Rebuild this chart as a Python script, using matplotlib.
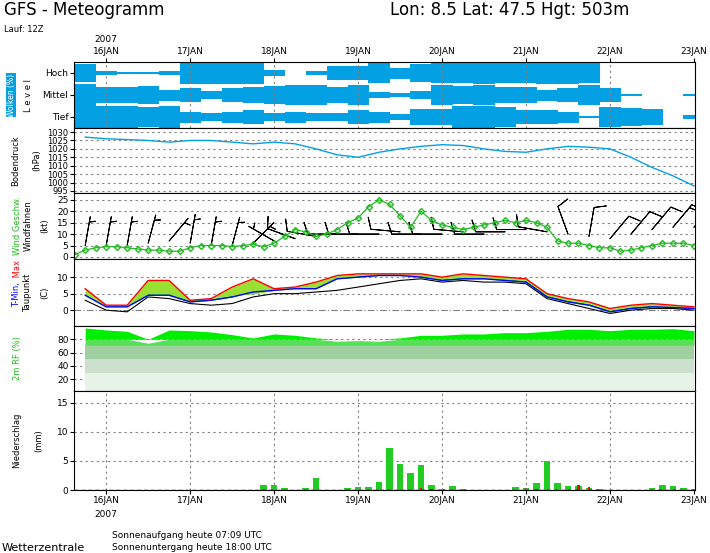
import matplotlib
matplotlib.use('Agg')
import matplotlib.pyplot as plt
import numpy as np

plt.rcParams['font.family'] = 'DejaVu Sans'
plt.rcParams['font.size'] = 6.5

# hours after 16JAN 00Z
t6 = np.arange(-6, 169, 6)
t3 = np.arange(-9, 169, 3)
day_ticks = np.arange(0, 169, 24)
day_labels = ['16JAN', '17JAN', '18JAN', '19JAN', '20JAN', '21JAN', '22JAN', '23JAN']

cloud_high = [0.8, 0.2, 0.1, 0.1, 0.2, 1, 1, 1, 1, 0.3, 0, 0.2, 0.6, 0.6, 0.9, 0.5, 0.8, 0.9, 0.9, 1,
              0.9, 0.9, 1, 1, 0.9, 0, 0, 0, 0, 0]
cloud_mid = [1, 0.7, 0.7, 0.8, 0.5, 0.6, 0.4, 0.6, 0.7, 0.8, 0.9, 0.9, 0.7, 0.9, 0.3, 0.2, 0.4, 0.9, 0.8, 0.9,
             0.7, 0.7, 0.5, 0.6, 0.9, 0.6, 0.1, 0, 0, 0.1]
cloud_low = [1, 1, 1, 0.9, 1, 0.5, 0.4, 0.5, 0.6, 0.4, 0.5, 0.4, 0.4, 0.6, 0.5, 0.3, 0.7, 0.7, 1, 1,
             0.9, 0.6, 0.6, 0.5, 0.1, 0.9, 0.8, 0.7, 0, 0.2]

pressure = [1027, 1026, 1025.5, 1025, 1024, 1025, 1025, 1024, 1023, 1024, 1023, 1020, 1016.5, 1015, 1018,
            1020, 1021.5, 1022.5, 1022, 1020, 1018.5, 1018, 1020, 1021.5, 1021, 1020, 1015, 1009, 1004, 998]

gust = [1, 3, 4, 4.5, 4.5, 4, 3.5, 3, 3, 2.5, 2.5, 4, 5, 5, 5, 4.5, 5, 5.5, 4.5, 6,
        9, 12, 11, 9, 10, 12, 15, 17, 22, 25, 23, 18, 13, 20, 16, 14, 13, 12, 13, 14,
        15, 16, 15, 16, 15, 13, 7, 6, 6, 5, 4, 4, 2.5, 3, 4, 5, 6, 6, 6, 5]
wind_spd = [5, 5, 5, 6, 7, 6, 5, 5, 6, 7, 8, 9, 10, 10, 10, 11, 10, 10, 11, 10,
            11, 12, 11, 10, 9, 8, 10, 12, 13, 13]
wind_dir = [10, 10, 10, 15, 40, 10, 10, 15, 45, 300, 290, 280, 270, 270, 270, 275, 270, 270, 275, 270,
            270, 270, 280, 340, 10, 40, 40, 40, 40, 40]

t_max = [6.5, 1.5, 1.5, 9, 9, 3, 3.5, 7, 9.5, 6.5, 7, 8.5, 10.5, 11, 11, 11, 11, 10, 11, 10.5,
         10, 9.5, 5, 3.5, 2.5, 0.5, 1.5, 2, 1.5, 1]
t_mid = [5, 1, 1, 5, 5, 3, 3.5, 4.5, 5, 6, 6.5, 7, 9.5, 10.5, 10.5, 10.5, 10, 9.5, 10, 9.5,
         9.5, 9, 4.5, 3, 2, 0, 1, 1.5, 1, 0.5]
t_min = [4.5, 1, 1, 4.5, 4.5, 2.5, 3, 4, 5.5, 6, 6.5, 6.5, 9.5, 10, 10.5, 10.5, 10, 9, 9.5, 9.5,
         9, 8.5, 4, 2.5, 1.5, -0.5, 0.5, 1, 0.8, 0.5]
dewpoint = [3, 0, -0.5, 4, 3.5, 2, 1.5, 2, 4, 5, 5, 5.5, 6, 7, 8, 9, 9.5, 8.5, 9, 8.5,
            8.5, 8, 3.5, 2, 0.5, -1, 0, 0.5, 0.5, 0]

rh = [97, 94, 92, 74, 94, 93, 91, 87, 82, 88, 86, 82, 77, 78, 77, 82, 86, 86, 88, 88,
      90, 90, 92, 95, 95, 93, 95, 95, 96, 93]

precip = [0, 0, 0,
          0, 0, 0, 0, 0, 0, 0, 0,
          0, 0, 0, 0, 0, 0, 0, 0.9,
          0.9, 0.4, 0, 0.4, 2.1, 0, 0, 0.4,
          0.6, 0.6, 1.4, 7.2, 4.5, 3.0, 4.3, 0.9,
          0.2, 0.7, 0.2, 0, 0, 0, 0, 0.5,
          0.4, 1.2, 5.0, 1.2, 0.7, 0.7, 0.3, 0.2,
          0, 0, 0, 0, 0.3, 0.9, 0.7, 0.4,
          0.2]
precip_conv = [0, 0, 0,
               0, 0, 0, 0, 0, 0, 0, 0,
               0, 0, 0, 0, 0, 0, 0, 0,
               0, 0, 0, 0, 0, 0, 0, 0,
               0, 0, 0, 0, 0, 0, 0.4, 0.2,
               0, 0, 0, 0, 0, 0, 0, 0,
               0.4, 0.2, 0, 0, 0, 0.9, 0.5, 0,
               0, 0, 0, 0, 0, 0, 0, 0,
               0]

W, H = 710, 553
fig = plt.figure(figsize=(W / 100, H / 100), dpi=100)


def panel(ytop, ybot):
    ax = fig.add_axes([74 / W, 1 - ybot / H, 621 / W, (ybot - ytop) / H])
    ax.set_xlim(-9.2, 168.3)
    ax.set_xticks(day_ticks)
    ax.tick_params(length=3, pad=1, labelsize=6.5)
    return ax


def hgrid(ax, vals):
    for v in vals:
        ax.axhline(v, color='gray', ls=(0, (2, 3)), lw=0.8, zorder=0)


def vgrid(ax):
    for d in day_ticks[:-1]:
        ax.axvline(d, color='gray', ls=(0, (2, 3)), lw=0.8, zorder=3)


def ylab(ax, px, s, color='black', y=0.5, va='center'):
    # px: x position in figure pixels
    ax.text((px - 74) / 621, y, s, rotation=90, color=color, transform=ax.transAxes,
            ha='center', va=va, fontsize=6)


blue = '#04a0e4'

# clouds
ax = panel(62, 128)
ax.set_ylim(0, 3)
for i, lev in enumerate([cloud_low, cloud_mid, cloud_high]):
    h = np.array(lev)
    ax.bar(t6, h, width=6.05, bottom=i + 0.5 - h / 2, color=blue, linewidth=0)
vgrid(ax)
ax.set_yticks([0.5, 1.5, 2.5])
ax.set_yticklabels(['Tief', 'Mittel', 'Hoch'], fontsize=6.5)
ax.xaxis.tick_top()
ax.set_xticklabels(day_labels)
ax.text(0, 1.3, '2007', transform=ax.get_xaxis_transform(), ha='center', fontsize=6.5)
ylab(ax, 28, 'L e v e l')
ax.text((11 - 74) / 621, 0.5, 'Wolken (%)', rotation=90, transform=ax.transAxes, ha='center', va='center',
        fontsize=5.5, color='white', bbox=dict(facecolor=blue, edgecolor='none', pad=0.5))

# pressure
ax = panel(128, 193)
ax.set_ylim(993.8, 1032.4)
hgrid(ax, np.arange(995, 1031, 5))
ax.plot(t6, pressure, color=blue, lw=1)
ax.set_yticks(np.arange(995, 1031, 5))
ax.set_yticklabels([str(v) for v in range(995, 1031, 5)], fontsize=6)
ax.set_xticklabels([])
ax.tick_params(axis='x', length=0)
ylab(ax, 16, 'Bodendruck')
ylab(ax, 37, '(hPa)')

# wind
ax = panel(193, 259)
ax.set_ylim(-0.9, 28)
hgrid(ax, np.arange(0, 26, 5))
wd = np.radians(wind_dir)
u = -np.array(wind_spd) * np.sin(wd)
v = -np.array(wind_spd) * np.cos(wd)
ax.barbs(t6, wind_spd, u, v, length=6.5, linewidth=0.7, color='black', sizes=dict(emptybarb=0))
ax.plot(t3, gust, color='#22bb22', lw=0.9, marker='D', ms=3, mfc='none', mec='#22bb22')
ax.set_yticks(np.arange(0, 26, 5))
ax.set_xticklabels([])
ax.tick_params(axis='x', length=0)
ylab(ax, 17, 'Wind Geschw.', '#22bb22')
ylab(ax, 28, 'Windfahnen')
ylab(ax, 45, '(kt)')

# temperature
ax = panel(259, 326)
ax.set_ylim(-4.8, 15.5)
hgrid(ax, [5, 10])
ax.axhline(0, color='gray', ls=(0, (6, 2, 1, 2)), lw=0.8, zorder=0)
ax.fill_between(t6, t_min, t_mid, color='#00dd00', lw=0)
ax.fill_between(t6, t_mid, t_max, color='#99e033', lw=0)
ax.plot(t6, t_max, color='red', lw=1)
ax.plot(t6, t_min, color='blue', lw=1)
ax.plot(t6, dewpoint, color='black', lw=0.8)
ax.set_yticks([0, 5, 10])
ax.set_xticklabels([])
ax.tick_params(axis='x', length=0)
ylab(ax, 17, 'T-Min,', 'blue', y=0.66, va='top')
ylab(ax, 17, ' Max', 'red', y=0.68, va='bottom')
ylab(ax, 28, 'Taupunkt')
ylab(ax, 45, '(C)')

# relative humidity
ax = panel(326, 391)
ax.set_ylim(2, 100)
bands = [(0, 29, '#e8f3e8'), (29, 50, '#cde0cd'), (50, 71, '#a0d0a0'), (71, 80, '#55e055'), (80, 100, '#00ee00')]
for lo, hi, c in bands:
    ax.fill_between(t6, lo, np.clip(rh, lo, hi), color=c, lw=0)
hgrid(ax, [20, 40, 60, 80])
ax.set_yticks([20, 40, 60, 80])
ax.set_xticklabels([])
ax.tick_params(axis='x', length=0)
ylab(ax, 17, '2m RF (%)', '#22bb22')

# precipitation
ax = panel(391, 490)
ax.set_ylim(0, 17)
hgrid(ax, [5, 10, 15])
vgrid(ax)
ax.bar(t3, precip, width=1.9, color='#22cc22', lw=0)
ax.bar(t3, precip_conv, width=0.8, color='red', lw=0)
ax.axhline(0, color='black', ls=(0, (3, 2)), lw=1)
ax.set_yticks([0, 5, 10, 15])
ax.set_xticklabels(day_labels)
ax.text(0, -0.2, '2007', transform=ax.get_xaxis_transform(), ha='center', va='top', fontsize=6.5)
ylab(ax, 17, 'Niederschlag')
ylab(ax, 39, '(mm)')

fig.text(4 / W, 1 - 10 / H, 'GFS - Meteogramm', fontsize=12, va='center')
fig.text(390 / W, 1 - 10 / H, 'Lon: 8.5 Lat: 47.5 Hgt: 503m', fontsize=12, va='center')
fig.text(4 / W, 1 - 30 / H, 'Lauf: 12Z', fontsize=6, va='center')
fig.text(112 / W, 1 - 535 / H, 'Sonnenaufgang heute 07:09 UTC', fontsize=6.5, va='center')
fig.text(112 / W, 1 - 547 / H, 'Sonnenuntergang heute 18:00 UTC', fontsize=6.5, va='center')
fig.text(2 / W, 1 - 548 / H, 'Wetterzentrale', fontsize=8, va='center')

fig.savefig('out.png', dpi=100)
